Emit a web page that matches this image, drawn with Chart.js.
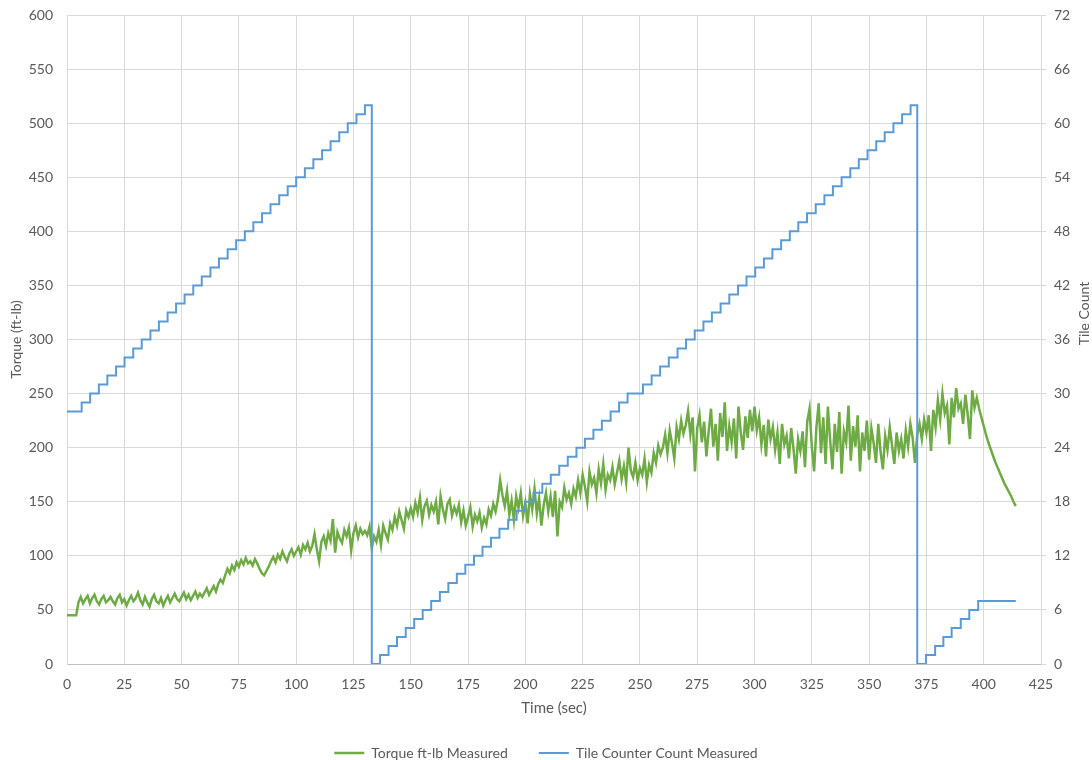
<!DOCTYPE html>
<html>
<head>
<meta charset="utf-8">
<title>Torque and Tile Counter</title>
<script src="https://cdn.jsdelivr.net/npm/chart.js@4.4.1/dist/chart.umd.min.js"></script>
<style>
  html, body { margin: 0; padding: 0; background: #ffffff; }
  #wrap { width: 1092px; height: 760px; }
</style>
</head>
<body>
<div id="wrap"><canvas id="chart" width="1092" height="760"></canvas></div>
<script>
// Torque samples, one per second starting at t = 0 s (ft-lb)
const TORQUE_SAMPLE_SEC = 1;
const torque = [
  45,45,45,45,45,57,62,56,60,63,
  56,61,64,58,55,60,63,57,59,62,
  58,55,61,64,57,60,54,59,63,58,
  61,66,59,55,62,57,53,60,64,58,
  56,61,54,59,63,57,61,65,60,58,
  62,66,60,64,59,63,67,61,65,62,
  66,70,64,68,72,67,74,78,75,82,
  88,84,91,87,94,90,96,92,98,93,
  95,91,97,93,88,84,82,86,90,95,
  99,94,101,97,104,99,95,102,106,100,
  104,108,101,110,106,112,104,109,120,106,
  95,113,118,109,121,114,134,103,122,116,
  112,124,118,126,105,121,128,117,125,120,
  123,119,127,107,118,113,124,110,128,121,
  115,130,124,136,128,141,133,125,142,136,
  144,136,149,140,154,133,146,151,138,147,
  141,150,129,155,143,134,148,152,137,145,
  139,147,131,142,128,136,145,127,138,132,
  140,126,135,129,143,137,148,141,152,170,
  156,146,160,138,151,133,155,144,158,137,
  149,130,157,143,162,139,153,128,147,158,
  141,155,136,160,118,150,145,163,152,158,
  148,162,155,170,158,175,164,150,178,166,
  172,158,180,167,185,161,175,170,182,166,
  177,188,171,183,168,200,179,173,186,170,
  181,175,190,168,184,177,195,186,202,194,
  200,212,195,216,204,190,219,208,225,213,
  221,234,212,228,178,218,230,205,224,192,
  215,236,201,222,188,232,210,242,197,220,
  205,227,190,238,214,198,229,209,235,215,
  238,216,228,203,221,192,226,208,219,198,
  214,185,222,203,211,190,218,199,176,208,
  197,215,182,224,236,201,178,219,241,195,
  228,185,238,207,180,222,196,233,176,215,
  205,239,188,220,201,230,178,214,197,225,
  189,218,204,186,222,196,180,211,198,219,
  202,185,214,197,208,190,216,201,222,209,
  186,212,222,208,226,214,230,197,235,219,
  244,226,250,232,239,203,246,228,255,236,
  241,222,249,231,208,253,237,246,236,228,
  220,212,205,199,193,187,182,177,172,167,
  163,159,155,150,146
];

// Tile counter: time (s) at which each new count value starts
const tileTime = [
  0, 6.4, 10.1, 13.9, 17.6, 21.4, 25.1, 28.9, 32.6, 36.4, 40.1, 43.9,
  47.6, 51.3, 55.1, 58.8, 62.6, 66.3, 70.1, 73.8, 77.6, 81.3, 85.1, 88.8,
  92.6, 96.3, 100.0, 103.8, 107.5, 111.3, 115.0, 118.8, 122.5, 126.3, 130.0,
  133.0,
  136.6, 140.3, 144.0, 147.8, 151.5, 155.2, 158.9, 162.7, 166.4, 170.1,
  173.8, 177.6, 181.3, 185.0, 188.7, 192.5, 196.2, 199.9, 203.6, 207.4,
  211.1, 214.8, 218.5, 222.3, 226.0, 229.7, 233.4, 237.2, 240.9, 244.6,
  251.3, 255.1, 258.8, 262.6, 266.4, 270.1, 273.9, 277.7, 281.4, 285.2,
  289.0, 292.8, 296.5, 300.3, 304.1, 307.8, 311.6, 315.4, 319.1, 322.9,
  326.7, 330.5, 334.2, 338.0, 341.8, 345.5, 349.3, 353.1, 356.8, 360.6,
  364.4, 368.1,
  371.0,
  374.8, 378.8, 382.4, 386.0, 390.0, 393.7, 397.6, 414.0
];
const tileCount = [
  28, 29, 30, 31, 32, 33, 34, 35, 36, 37, 38, 39,
  40, 41, 42, 43, 44, 45, 46, 47, 48, 49, 50, 51,
  52, 53, 54, 55, 56, 57, 58, 59, 60, 61, 62,
  0,
  1, 2, 3, 4, 5, 6, 7, 8, 9, 10,
  11, 12, 13, 14, 15, 16, 17, 18, 19, 20,
  21, 22, 23, 24, 25, 26, 27, 28, 29, 30,
  31, 32, 33, 34, 35, 36, 37, 38, 39, 40,
  41, 42, 43, 44, 45, 46, 47, 48, 49, 50,
  51, 52, 53, 54, 55, 56, 57, 58, 59, 60,
  61, 62,
  0,
  1, 2, 3, 4, 5, 6, 7, 7
];

// Axis tick values
const timeTicks = [0, 25, 50, 75, 100, 125, 150, 175, 200, 225, 250, 275, 300, 325, 350, 375, 400, 425];
const torqueTicks = [0, 50, 100, 150, 200, 250, 300, 350, 400, 450, 500, 550, 600];
const countTicks = [0, 6, 12, 18, 24, 30, 36, 42, 48, 54, 60, 66, 72];

const FONT = 'Lato, "Open Sans", "DejaVu Sans", sans-serif';
const TEXT = '#595959';
const GRID = '#d9d9d9';
const GREEN = '#6EAB45';
const BLUE = '#5B9BD5';

const torquePoints = torque.map((v, i) => ({ x: i * TORQUE_SAMPLE_SEC, y: v }));
const tilePoints = tileTime.map((t, i) => ({ x: t, y: tileCount[i] }));

const asTicks = (list) => (scale) => { scale.ticks = list.map(v => ({ value: v })); };

// Fix a vertical scale's width and let the plot run right up to the layout padding
const fixVertical = (width) => (s) => {
  s.width = width;
  s.paddingTop = 0;
  s.paddingBottom = 0;
};

// Right-hand axis title, reading bottom to top like the left one
const rightAxisTitle = {
  id: 'rightAxisTitle',
  afterDraw(chart) {
    const s = chart.scales.y1;
    const area = chart.chartArea;
    const ctx = chart.ctx;
    ctx.save();
    ctx.translate(s.right - 8, (area.top + area.bottom) / 2 - 26);
    ctx.rotate(-Math.PI / 2);
    ctx.font = '14px ' + FONT;
    ctx.fillStyle = TEXT;
    ctx.textAlign = 'center';
    ctx.textBaseline = 'middle';
    ctx.fillText('Tile Count', 0, 0);
    ctx.restore();
  }
};

new Chart(document.getElementById('chart'), {
  type: 'line',
  data: {
    datasets: [
      {
        label: 'Torque ft-lb Measured',
        data: torquePoints,
        yAxisID: 'y',
        borderColor: GREEN,
        backgroundColor: GREEN,
        borderWidth: 2.5,
        pointRadius: 0,
        tension: 0,
        order: 1
      },
      {
        label: 'Tile Counter Count Measured',
        data: tilePoints,
        yAxisID: 'y1',
        stepped: true,
        borderColor: BLUE,
        backgroundColor: BLUE,
        borderWidth: 2,
        pointRadius: 0,
        order: 0
      }
    ]
  },
  options: {
    responsive: false,
    animation: false,
    devicePixelRatio: 1,
    layout: { padding: { top: 15, bottom: -10, left: 0, right: 0 } },
    plugins: {
      legend: {
        position: 'bottom',
        labels: {
          usePointStyle: true,
          pointStyle: 'line',
          pointStyleWidth: 30,
          padding: 31,
          color: TEXT,
          font: { family: FONT, size: 14 },
          sort: (a, b) => a.datasetIndex - b.datasetIndex
        }
      },
      tooltip: { enabled: false }
    },
    scales: {
      x: {
        type: 'linear',
        min: 0,
        max: 425,
        afterBuildTicks: asTicks(timeTicks),
        afterFit: (s) => { s.height = 51; },
        grid: { color: GRID, drawTicks: false },
        border: { color: '#bfbfbf' },
        ticks: {
          autoSkip: false, maxRotation: 0, padding: 12,
          color: TEXT, font: { family: FONT, size: 14 }
        },
        title: {
          display: true, text: 'Time (sec)', color: TEXT,
          font: { family: FONT, size: 15 }, padding: { top: 0, bottom: -2 }
        }
      },
      y: {
        type: 'linear',
        position: 'left',
        min: 0,
        max: 600,
        afterBuildTicks: asTicks(torqueTicks),
        afterFit: fixVertical(67),
        grid: { color: GRID, drawTicks: false },
        border: { color: GRID },
        ticks: { padding: 14, color: TEXT, font: { family: FONT, size: 14 } },
        title: {
          display: true, text: 'Torque (ft-lb)', color: TEXT,
          font: { family: FONT, size: 14 }, padding: { top: 8, bottom: 0 }
        }
      },
      y1: {
        type: 'linear',
        position: 'right',
        min: 0,
        max: 72,
        afterBuildTicks: asTicks(countTicks),
        afterFit: fixVertical(51),
        grid: { drawOnChartArea: false, color: GRID, tickLength: 5 },
        border: { color: GRID },
        ticks: { padding: 8, color: TEXT, font: { family: FONT, size: 14 } }
      }
    }
  },
  plugins: [rightAxisTitle]
});
</script>
</body>
</html>
